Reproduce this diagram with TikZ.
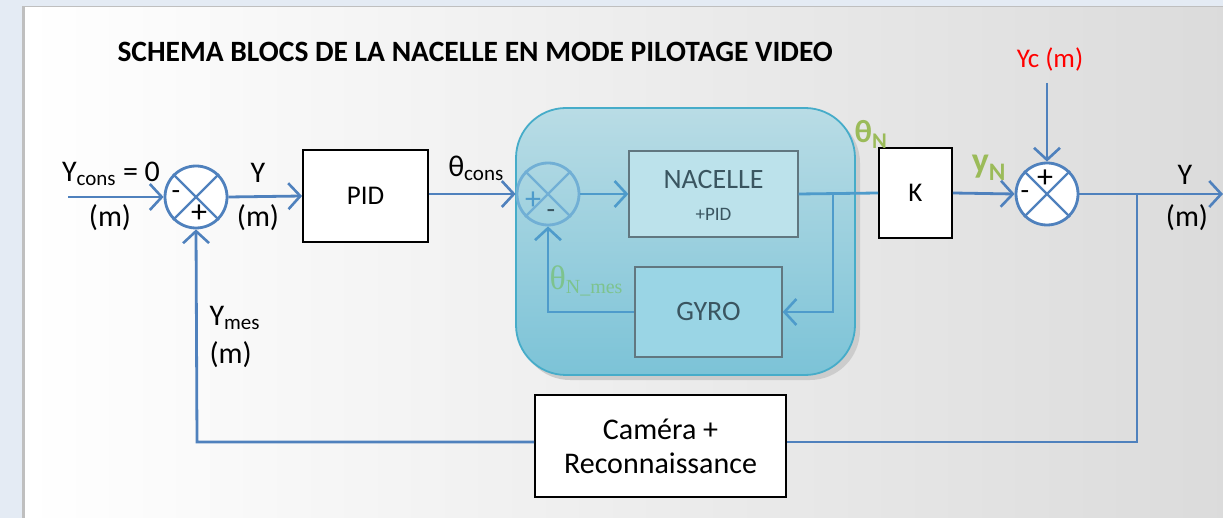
\documentclass[tikz,border=0pt]{standalone}
\usepackage{fontspec}
\setmainfont{Carlito}
\newfontfamily\serifgr{Liberation Serif}
\usetikzlibrary{arrows.meta,shadows,calc}
\definecolor{lineblue}{HTML}{4F81BD}
\definecolor{innerblue}{HTML}{4E9BCB}
\definecolor{boxedge}{HTML}{46ACC9}
\definecolor{greenA}{HTML}{9BBB59}
\definecolor{greenB}{HTML}{7DC38E}
\definecolor{txtdark}{HTML}{3A5560}
\definecolor{outerbg}{HTML}{E4EBF4}
\definecolor{grptop}{HTML}{B9DCE5}
\definecolor{grpbot}{HTML}{7CC3D7}
\definecolor{nacfill}{HTML}{BCE2EB}
\definecolor{gyrofill}{HTML}{9AD5E5}
\tikzset{
  fs/.style={font=\fontsize{#1}{#1}\selectfont},
  conn/.style={draw=lineblue, line width=2.8pt, -{Straight Barb[length=12pt,width=26pt,line width=2.6pt]}},
  plain/.style={draw=lineblue, line width=2.8pt},
  inconn/.style={draw=innerblue, line width=2.8pt, -{Straight Barb[length=12pt,width=26pt,line width=2.6pt]}},
  inplain/.style={draw=innerblue, line width=2.8pt},
  blockbox/.style={draw=black, line width=1.8pt, fill=white, fs=27},
  innerbox/.style={draw=txtdark!80, line width=1.3pt, fill=#1, text=txtdark},
  sumj/.style={circle, draw=lineblue, line width=2.8pt, fill=white, minimum size=62pt, inner sep=0pt},
}
\begin{document}
\begin{tikzpicture}[x=1pt,y=-1pt]
\useasboundingbox (0,0) rectangle (1223,518);
\fill[outerbg] (0,0) rectangle (1223,518);
\fill[black!25] (22,6) rectangle (1223,518);
\shade[left color=white, right color=black!14!white] (25,8) rectangle (1223,518);
% title
\node[font=\bfseries\fontsize{29.5}{29.5}\selectfont, anchor=west] (title) at (114,52) {SCHEMA BLOCS DE LA NACELLE EN MODE PILOTAGE VIDEO};
% nacelle group box
\fill[black!20, rounded corners=50pt] (520,113) rectangle (860,380);
\shade[top color=grptop, bottom color=grpbot, rounded corners=50pt] (516,108) rectangle (855,375);
\draw[boxedge, line width=1.8pt, rounded corners=50pt] (516,108) rectangle (855,375);
% sums
\node[sumj] (s1) at (196,197) {};
\draw[lineblue, line width=2.2pt] (s1.north east) -- (s1.south west) (s1.north west) -- (s1.south east);
\node[fs=28] (s1m) at (176,195) {-};
\node[fs=32] (s1p) at (199,214) {+};
\node[sumj, fill=none, draw=innerblue!80] (s2) at (548,194) {};
\draw[innerblue!80, line width=2.2pt] (s2.north east) -- (s2.south west) (s2.north west) -- (s2.south east);
\node[fs=32, text=innerblue] (s2p) at (533,201) {+};
\node[fs=28, text=txtdark] (s2m) at (551,214) {-};
\node[sumj] (s3) at (1047,194) {};
\draw[lineblue, line width=2.2pt] (s3.north east) -- (s3.south west) (s3.north west) -- (s3.south east);
\node[fs=28] (s3m) at (1025,195) {-};
\node[fs=32] (s3p) at (1045,179) {+};
% blocks
\node[blockbox, minimum width=125pt, minimum height=92pt] (pid) at (365.5,196) {PID};
\node[blockbox, minimum width=73pt, minimum height=90pt] (k) at (915.5,193) {K};
\node[blockbox, minimum width=251pt, minimum height=102pt, align=center, fs=30] (cam) at (660.5,446) {Caméra +\\[4pt]Reconnaissance};
\node[innerbox=nacfill, minimum width=169pt, minimum height=86pt] (nac) at (713.5,194) {};
\node[text=txtdark, fs=28] (nact) at (713.5,180) {NACELLE};
\node[text=txtdark, fs=19] (nacp) at (713.5,214) {+PID};
\node[innerbox=gyrofill, minimum width=147pt, minimum height=90pt, fs=28] (gyro) at (708.5,312) {GYRO};
% coordinates
\coordinate (in) at (68,197);
\coordinate (br1) at (833,194);
\coordinate (br1b) at (833,312);
\coordinate (g1) at (548,312);
\coordinate (yc) at (1047,83);
\coordinate (out) at (1223,194);
\coordinate (br2) at (1137,194);
\coordinate (br2b) at (1137,442);
\coordinate (fb1) at (197,442);
% connectors
\draw[conn] (in) -- (s1.west);
\draw[conn] (s1.east) -- (pid.west);
\draw[conn] (pid.east |- s2.west) -- (s2.west);
\draw[inconn] (s2.east) -- (nac.west);
\draw[inplain] (nac.east) -- (k.west);
\draw[inconn] (br1) -- (br1b) -- (gyro.east);
\draw[inconn] (gyro.west) -- (g1) -- (s2.south);
\draw[conn] (k.east) -- (s3.west);
\draw[conn] (yc) -- (s3.north);
\draw[conn] (s3.east) -- (out);
\draw[plain] (br2) -- (br2b) -- (cam.east |- br2b);
\draw[conn] (cam.west |- br2b) -- (fb1) -- (s1.south);
% labels
\node[fs=30] (lycons) at (111,174) {Y\textsubscript{cons} = 0};
\node[fs=30] (lm1) at (110,218) {(m)};
\node[fs=30] (ly1) at (258,173) {Y};
\node[fs=30] (lm2) at (258,218) {(m)};
\node[fs=30] (ltc) at (476,168) {θ\textsubscript{cons}};
\node[text=greenA, font=\bfseries\fontsize{32}{32}\selectfont] (ltn) at (871,134) {θ\textsubscript{N}};
\node[text=greenA, font=\bfseries\fontsize{36}{36}\selectfont] (lyn) at (989,168) {y\textsubscript{N}};
\node[fs=27, text=red] (lyc) at (1050,60) {Yc (m)};
\node[fs=30] (ly2) at (1185,175) {Y};
\node[fs=30] (lm3) at (1187,218) {(m)};
\node[fs=30, anchor=west] (lymes) at (206,318) {Y\textsubscript{mes}};
\node[fs=30, anchor=west] (lm4) at (206,355) {(m)};
\node[text=greenB, anchor=west, font=\serifgr\fontsize{34}{34}\selectfont] (ltnm) at (546,281) {θ\textsubscript{\fontsize{20}{20}\selectfont N\_mes}};
\end{tikzpicture}
\end{document}
